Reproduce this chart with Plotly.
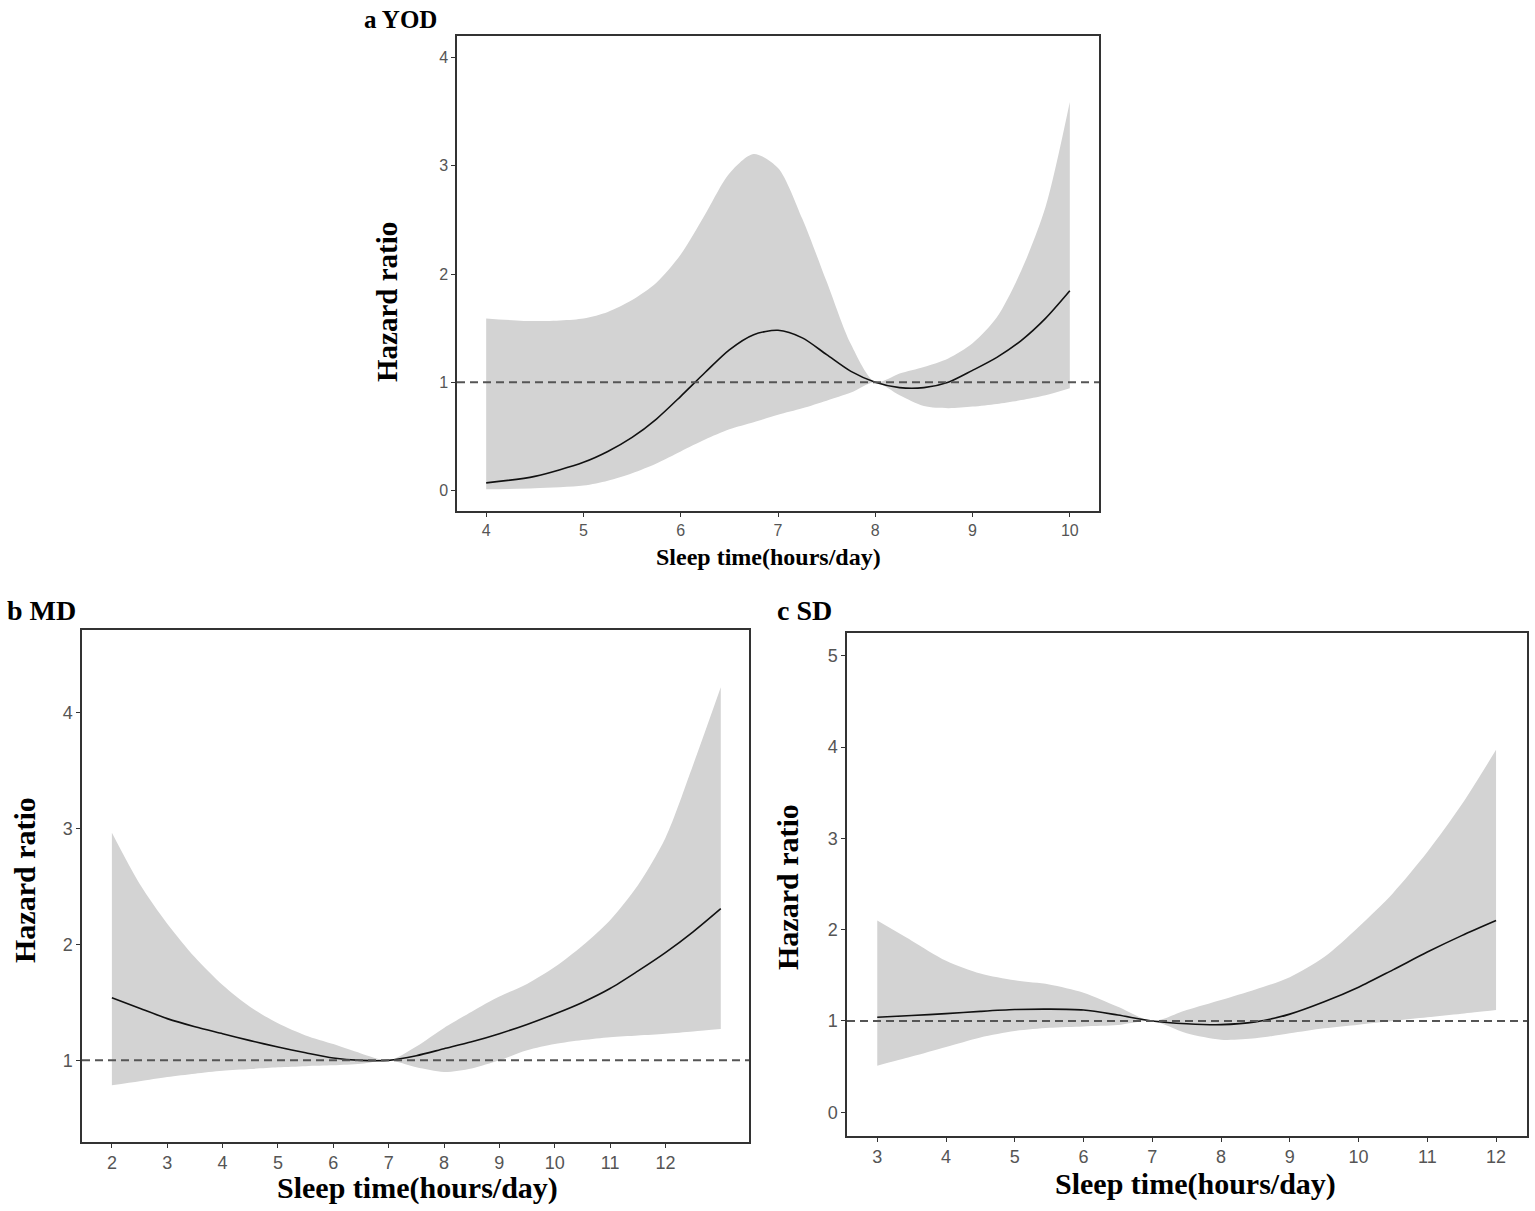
"""
Restricted cubic spline plots: hazard ratio vs sleep time (YOD, MD, SD)
"""

import plotly.graph_objects as go

# ---- panel a: YOD ----
yod_x = [4, 4.5, 5, 5.25, 5.5, 5.75, 6, 6.25, 6.5, 6.75, 7, 7.25, 7.5, 7.75,
         8, 8.25, 8.5, 8.75, 9, 9.25, 9.5, 9.75, 10]
yod_hr = [0.07, 0.13, 0.26, 0.36, 0.49, 0.66, 0.87, 1.09, 1.30, 1.44, 1.48, 1.41,
          1.255, 1.10, 1.0, 0.95, 0.95, 1.0, 1.11, 1.23, 1.385, 1.59, 1.845]
yod_upper = [1.59, 1.565, 1.59, 1.65, 1.76, 1.92, 2.18, 2.55, 2.93, 3.11, 2.98, 2.51,
             1.93, 1.35, 1.0, 1.08, 1.14, 1.22, 1.36, 1.60, 2.03, 2.62, 3.59]
yod_lower = [0.01, 0.02, 0.045, 0.09, 0.16, 0.25, 0.36, 0.47, 0.565, 0.63, 0.70, 0.76,
             0.83, 0.905, 1.0, 0.88, 0.78, 0.76, 0.775, 0.80, 0.835, 0.88, 0.945]

# ---- panel b: MD ----
md_x = [2, 2.5, 3, 3.5, 4, 4.5, 5, 5.5, 6, 6.5, 7, 7.5, 8, 8.5, 9, 9.5,
        10, 10.5, 11, 11.5, 12, 12.5, 13]
md_hr = [1.54, 1.45, 1.36, 1.29, 1.23, 1.17, 1.115, 1.065, 1.02, 1.0, 1.0, 1.04,
         1.10, 1.16, 1.23, 1.31, 1.40, 1.50, 1.62, 1.77, 1.93, 2.11, 2.31]
md_upper = [2.965, 2.525, 2.18, 1.89, 1.65, 1.46, 1.32, 1.215, 1.14, 1.06, 1.0, 1.12,
            1.28, 1.42, 1.55, 1.66, 1.805, 1.99, 2.21, 2.51, 2.92, 3.55, 4.22]
md_lower = [0.785, 0.82, 0.856, 0.885, 0.91, 0.925, 0.94, 0.95, 0.957, 0.97, 1.0, 0.94,
            0.90, 0.93, 1.0, 1.086, 1.14, 1.175, 1.20, 1.215, 1.23, 1.25, 1.27]

# ---- panel c: SD ----
sd_x = [3, 3.5, 4, 4.5, 5, 5.5, 6, 6.5, 7, 7.5, 8, 8.5, 9, 9.5, 10, 10.5,
        11, 11.5, 12]
sd_hr = [1.04, 1.06, 1.08, 1.105, 1.125, 1.13, 1.12, 1.065, 1.0, 0.97, 0.96, 0.99,
         1.075, 1.21, 1.37, 1.56, 1.755, 1.935, 2.10]
sd_upper = [2.10, 1.88, 1.66, 1.52, 1.445, 1.40, 1.31, 1.155, 1.0, 1.12, 1.23, 1.345,
            1.48, 1.70, 2.03, 2.40, 2.85, 3.37, 3.97]
sd_lower = [0.51, 0.61, 0.715, 0.82, 0.89, 0.925, 0.94, 0.955, 1.0, 0.865, 0.795, 0.81,
            0.865, 0.92, 0.96, 1.0, 1.04, 1.08, 1.12]

W, H = 1535, 1211
BAND = '#d3d3d3'
FRAME = '#333333'
TICK_FONT = 'Liberation Sans, Arial, sans-serif'
TITLE_FONT = 'Liberation Serif, Times New Roman, serif'


def px_x(v):
    return v / W


def px_y(v):
    return 1 - v / H


# panel geometry in pixels: left, right, top, bottom
panels = [
    dict(x=yod_x, hr=yod_hr, up=yod_upper, lo=yod_lower,
         box=(457, 1099, 36, 511), xr=[3.7, 10.3], yr=[-0.19, 4.2],
         xt=list(range(4, 11)), yt=[0, 1, 2, 3, 4], tick=16,
         label='a YOD', label_xy=(362, 19), label_size=25,
         ytitle_xy=(387, 302), ytitle_size=29, xtitle_xy=(769, 557), xtitle_size=24),
    dict(x=md_x, hr=md_hr, up=md_upper, lo=md_lower,
         box=(82, 749, 630, 1142), xr=[1.46, 13.51], yr=[0.295, 4.715],
         xt=list(range(2, 13)), yt=[1, 2, 3, 4], tick=18,
         label='b MD', label_xy=(5, 610), label_size=28,
         ytitle_xy=(24, 880), ytitle_size=30, xtitle_xy=(418, 1188), xtitle_size=30),
    dict(x=sd_x, hr=sd_hr, up=sd_upper, lo=sd_lower,
         box=(847, 1527, 633, 1136), xr=[2.56, 12.45], yr=[-0.26, 5.25],
         xt=list(range(3, 13)), yt=[0, 1, 2, 3, 4, 5], tick=18,
         label='c SD', label_xy=(775, 610), label_size=28,
         ytitle_xy=(787, 887), ytitle_size=30, xtitle_xy=(1195, 1184), xtitle_size=30),
]

fig = go.Figure()
annotations = []
shapes = []

for i, p in enumerate(panels, start=1):
    xa = 'x' if i == 1 else f'x{i}'
    ya = 'y' if i == 1 else f'y{i}'

    # confidence band
    fig.add_trace(go.Scatter(x=p['x'], y=p['lo'], mode='lines',
                             line=dict(width=0, shape='spline', smoothing=0.8),
                             hoverinfo='skip', showlegend=False, xaxis=xa, yaxis=ya))
    fig.add_trace(go.Scatter(x=p['x'], y=p['up'], mode='lines', fill='tonexty',
                             fillcolor=BAND,
                             line=dict(width=0, shape='spline', smoothing=0.8),
                             hoverinfo='skip', showlegend=False, xaxis=xa, yaxis=ya))
    # hazard ratio curve
    fig.add_trace(go.Scatter(x=p['x'], y=p['hr'], mode='lines',
                             line=dict(color='#111111', width=1.6, shape='spline', smoothing=0.8),
                             showlegend=False, xaxis=xa, yaxis=ya))

    # reference line HR = 1
    shapes.append(dict(type='line', xref=f'{xa} domain', yref=ya, x0=0, x1=1, y0=1, y1=1,
                       line=dict(color='#555555', width=2, dash='8px,5px')))

    l, r, t, b = p['box']
    axis_common = dict(showline=True, mirror=True, linecolor=FRAME, linewidth=1.5,
                       ticks='outside', ticklen=4, tickwidth=1.2, tickcolor=FRAME,
                       showgrid=False, zeroline=False,
                       tickfont=dict(family=TICK_FONT, size=p['tick'], color='#555555'))
    fig.update_layout(**{
        ('xaxis' if i == 1 else f'xaxis{i}'): dict(
            domain=[px_x(l), px_x(r)], range=p['xr'], tickvals=p['xt'],
            anchor=ya, **axis_common),
        ('yaxis' if i == 1 else f'yaxis{i}'): dict(
            domain=[px_y(b), px_y(t)], range=p['yr'], tickvals=p['yt'],
            anchor=xa, **axis_common),
    })

    # panel label and axis titles
    lx, ly = p['label_xy']
    annotations.append(dict(text=f"<b>{p['label']}</b>", x=px_x(lx), y=px_y(ly),
                            xref='paper', yref='paper', xanchor='left', yanchor='middle',
                            showarrow=False,
                            font=dict(family=TITLE_FONT, size=p['label_size'], color='black')))
    tx, ty = p['ytitle_xy']
    annotations.append(dict(text='<b>Hazard ratio</b>', x=px_x(tx), y=px_y(ty),
                            xref='paper', yref='paper', xanchor='center', yanchor='middle',
                            textangle=-90, showarrow=False,
                            font=dict(family=TITLE_FONT, size=p['ytitle_size'], color='black')))
    sx, sy = p['xtitle_xy']
    annotations.append(dict(text='<b>Sleep time(hours/day)</b>', x=px_x(sx), y=px_y(sy),
                            xref='paper', yref='paper', xanchor='center', yanchor='middle',
                            showarrow=False,
                            font=dict(family=TITLE_FONT, size=p['xtitle_size'], color='black')))

fig.update_layout(
    width=W, height=H,
    margin=dict(l=0, r=0, t=0, b=0),
    plot_bgcolor='white',
    paper_bgcolor='white',
    showlegend=False,
    annotations=annotations,
    shapes=shapes,
)

# drop the default page margin so the figure fills the window exactly
fig.write_html('out.html', config={'displayModeBar': False},
               post_script="document.body.style.margin='0';document.body.style.overflow='hidden';")
